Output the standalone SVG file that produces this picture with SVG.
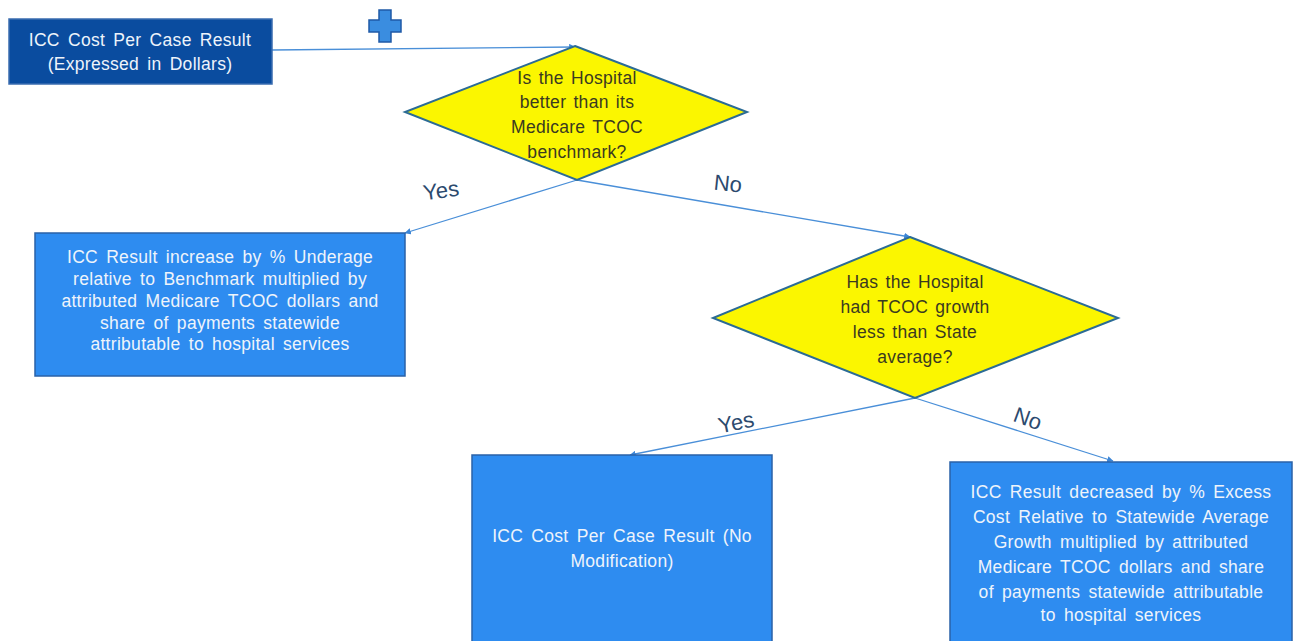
<svg xmlns="http://www.w3.org/2000/svg" width="1294" height="641" viewBox="0 0 1294 641">
<defs>
<marker id="arr" viewBox="0 0 10 10" refX="9" refY="5" markerWidth="5" markerHeight="5" orient="auto"><path d="M0,0 L10,5 L0,10 z" fill="#3d86d6"/></marker>
<style>
.box{fill:#2e8cf0;stroke:#2a62a8;stroke-width:1.5}
.dia{fill:#fbf600;stroke:#2b6b95;stroke-width:2}
.wt{font-family:"Liberation Sans",Arial,sans-serif;font-size:17.5px;word-spacing:3px;letter-spacing:0.3px;fill:#eef4fb;text-anchor:middle}
.dt{font-family:"Liberation Sans",Arial,sans-serif;font-size:17.5px;word-spacing:2px;letter-spacing:0.3px;fill:#3a3a20;text-anchor:middle}
.lb{font-family:"Liberation Sans",Arial,sans-serif;font-size:22px;fill:#2c4a6e;text-anchor:middle}
.cn{stroke:#4a8fd8;stroke-width:1.3;fill:none;marker-end:url(#arr)}
</style>
</defs>
<rect width="1294" height="641" fill="#ffffff"/>
<g id="connectors">
<line class="cn" x1="272" y1="50" x2="575" y2="47"/>
<line class="cn" x1="577" y1="180" x2="405" y2="233"/>
<line class="cn" x1="577" y1="180" x2="910" y2="237"/>
<line class="cn" x1="915" y1="398" x2="630" y2="455"/>
<line class="cn" x1="915" y1="398" x2="1113" y2="461"/>
<text class="lb" x="441" y="198" transform="rotate(-8 441 190)">Yes</text>
<text class="lb" x="728" y="191" transform="rotate(6 728 183)">No</text>
<text class="lb" x="736" y="430" transform="rotate(-12 736 422)">Yes</text>
<text class="lb" x="1028" y="426" transform="rotate(20 1028 418)">No</text>
</g>
<g id="plus">
<path d="M379,10 h12 v10 h10 v12 h-10 v10 h-12 v-10 h-10 v-12 h10 z" fill="#3a8de0" stroke="#1f5aa6" stroke-width="1.5"/>
</g>
<g id="start">
<rect x="9" y="19" width="263" height="65" fill="#0a4c9f" stroke="#3a6cb0" stroke-width="1.5"/>
<text class="wt" x="140" y="46">ICC Cost Per Case Result</text>
<text class="wt" x="140" y="70">(Expressed in Dollars)</text>
</g>
<g id="decision1">
<polygon class="dia" points="575,46 747,112 577,180 405,112"/>
<text class="dt" x="577" y="84">Is the Hospital</text>
<text class="dt" x="577" y="108">better than its</text>
<text class="dt" x="577" y="133">Medicare TCOC</text>
<text class="dt" x="577" y="158">benchmark?</text>
</g>
<g id="increase">
<rect class="box" x="35" y="233" width="370" height="143"/>
<text class="wt" x="220" y="263">ICC Result increase by % Underage</text>
<text class="wt" x="220" y="285">relative to Benchmark multiplied by</text>
<text class="wt" x="220" y="307">attributed Medicare TCOC dollars and</text>
<text class="wt" x="220" y="329">share of payments statewide</text>
<text class="wt" x="220" y="350">attributable to hospital services</text>
</g>
<g id="decision2">
<polygon class="dia" points="910,237 1118,318 915,398 713,318"/>
<text class="dt" x="915" y="288">Has the Hospital</text>
<text class="dt" x="915" y="313">had TCOC growth</text>
<text class="dt" x="915" y="338">less than State</text>
<text class="dt" x="915" y="363">average?</text>
</g>
<g id="nomod">
<rect class="box" x="472" y="455" width="300" height="195"/>
<text class="wt" x="622" y="542">ICC Cost Per Case Result (No</text>
<text class="wt" x="622" y="567">Modification)</text>
</g>
<g id="decrease">
<rect class="box" x="950" y="462" width="342" height="188"/>
<text class="wt" x="1121" y="498">ICC Result decreased by % Excess</text>
<text class="wt" x="1121" y="523">Cost Relative to Statewide Average</text>
<text class="wt" x="1121" y="548">Growth multiplied by attributed</text>
<text class="wt" x="1121" y="573">Medicare TCOC dollars and share</text>
<text class="wt" x="1121" y="598">of payments statewide attributable</text>
<text class="wt" x="1121" y="621">to hospital services</text>
</g>
</svg>
